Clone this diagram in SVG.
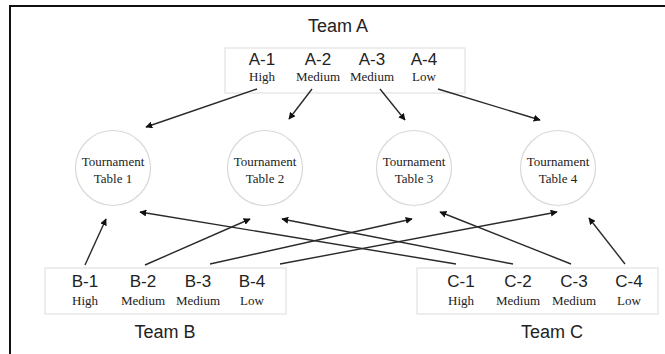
<svg xmlns="http://www.w3.org/2000/svg" width="665" height="354" viewBox="0 0 665 354">
<style>
.bg{fill:#fff}
.frame{fill:none;stroke:#111;stroke-width:2}
.box{fill:#fff;stroke:#dcdcdc;stroke-width:1}
.tbl{fill:#fff;stroke:#d8d8d8;stroke-width:1.2}
.title{font-family:"Liberation Sans",Arial,sans-serif;font-size:18px;fill:#222;text-anchor:middle}
.id{font-family:"Liberation Sans",Arial,sans-serif;font-size:17px;fill:#222;text-anchor:middle}
.lvl{font-family:"Liberation Serif","Times New Roman",serif;font-size:13px;fill:#222;text-anchor:middle}
.tt{font-family:"Liberation Serif","Times New Roman",serif;font-size:13px;fill:#222;text-anchor:middle}
.arr{stroke:#2a2a2a;stroke-width:1.4;fill:none;marker-end:url(#ah)}
</style>
<defs>
<marker id="ah" viewBox="0 0 10 10" refX="9" refY="5" markerWidth="7" markerHeight="7" markerUnits="userSpaceOnUse" orient="auto">
<path d="M0,0 L10,5 L0,10 z" fill="#111"/>
</marker>
</defs>
<rect class="bg" x="0" y="0" width="665" height="354"/>
<rect class="frame" x="10" y="6" width="700" height="400"/>

<g id="teamA">
<text class="title" x="338" y="32">Team A</text>
<rect class="box" x="225" y="48" width="240" height="45"/>
<text class="id" x="262" y="65">A-1</text><text class="lvl" x="262" y="81">High</text>
<text class="id" x="318" y="65">A-2</text><text class="lvl" x="318" y="81">Medium</text>
<text class="id" x="372" y="65">A-3</text><text class="lvl" x="372" y="81">Medium</text>
<text class="id" x="424" y="65">A-4</text><text class="lvl" x="424" y="81">Low</text>
</g>

<g id="table1">
<circle class="tbl" cx="113" cy="168" r="37.5"/>
<text class="tt" x="113" y="166">Tournament</text><text class="tt" x="113" y="183">Table 1</text>
</g>
<g id="table2">
<circle class="tbl" cx="265" cy="168" r="37.5"/>
<text class="tt" x="265" y="166">Tournament</text><text class="tt" x="265" y="183">Table 2</text>
</g>
<g id="table3">
<circle class="tbl" cx="414" cy="168" r="37.5"/>
<text class="tt" x="414" y="166">Tournament</text><text class="tt" x="414" y="183">Table 3</text>
</g>
<g id="table4">
<circle class="tbl" cx="558" cy="168" r="37.5"/>
<text class="tt" x="558" y="166">Tournament</text><text class="tt" x="558" y="183">Table 4</text>
</g>

<g id="teamB">
<rect class="box" x="45" y="268" width="241" height="46"/>
<text class="id" x="85" y="287">B-1</text><text class="lvl" x="85" y="305">High</text>
<text class="id" x="143" y="287">B-2</text><text class="lvl" x="143" y="305">Medium</text>
<text class="id" x="198" y="287">B-3</text><text class="lvl" x="198" y="305">Medium</text>
<text class="id" x="252" y="287">B-4</text><text class="lvl" x="252" y="305">Low</text>
<text class="title" x="165" y="338">Team B</text>
</g>

<g id="teamC">
<rect class="box" x="417" y="268" width="241" height="46"/>
<text class="id" x="461" y="287">C-1</text><text class="lvl" x="461" y="305">High</text>
<text class="id" x="518" y="287">C-2</text><text class="lvl" x="518" y="305">Medium</text>
<text class="id" x="574" y="287">C-3</text><text class="lvl" x="574" y="305">Medium</text>
<text class="id" x="629" y="287">C-4</text><text class="lvl" x="629" y="305">Low</text>
<text class="title" x="552" y="338">Team C</text>
</g>

<g id="connectors">
<line class="arr" x1="257" y1="89" x2="146" y2="127"/>
<line class="arr" x1="312" y1="89" x2="289" y2="119"/>
<line class="arr" x1="380" y1="89" x2="405" y2="120"/>
<line class="arr" x1="438" y1="89" x2="540" y2="120"/>
<line class="arr" x1="85" y1="265" x2="106" y2="219"/>
<line class="arr" x1="145" y1="265" x2="250" y2="219"/>
<line class="arr" x1="210" y1="264" x2="412" y2="219"/>
<line class="arr" x1="280" y1="264" x2="557" y2="212"/>
<line class="arr" x1="456" y1="264" x2="140" y2="212"/>
<line class="arr" x1="513" y1="264" x2="282" y2="219"/>
<line class="arr" x1="571" y1="264" x2="440" y2="212"/>
<line class="arr" x1="625" y1="264" x2="589" y2="218"/>
</g>
</svg>
